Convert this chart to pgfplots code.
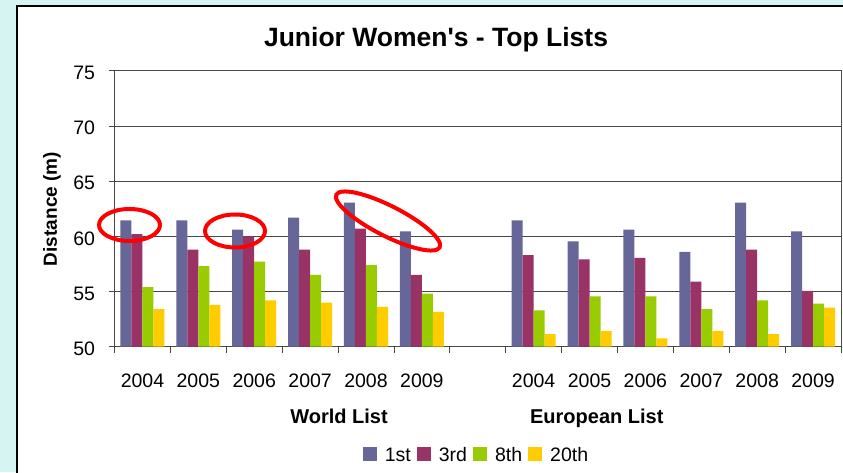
\documentclass[border=0pt]{standalone}
\usepackage{fontspec}
\setmainfont{Liberation Sans}[Ligatures=TeXOff]
\usepackage{pgfplots}
\pgfplotsset{compat=1.18}
\definecolor{bgc}{HTML}{D6F4F2}
\definecolor{cA}{HTML}{666699}
\definecolor{cB}{HTML}{993366}
\definecolor{cC}{HTML}{99CC00}
\definecolor{cD}{HTML}{FFCC00}
\definecolor{gridc}{HTML}{474747}
\begin{document}
\begin{tikzpicture}
\useasboundingbox (0pt,0pt) rectangle (843pt,472pt);
\fill[bgc] (0pt,0pt) rectangle (843pt,472pt);
\filldraw[fill=white, draw=black, line width=2pt] (17pt,-10pt) rectangle (870pt,466pt);
\begin{axis}[
  at={(114.5pt,125.3pt)}, anchor=south west,
  scale only axis, width=726.5pt, height=276pt,
  xmin=-0.5, xmax=12.5, ymin=50, ymax=75,
  ytick={50,55,60,65,70,75},
  xtick={0,1,2,3,4,5,7,8,9,10,11,12},
  xticklabels={2004,2005,2006,2007,2008,2009,2004,2005,2006,2007,2008,2009},
  minor xtick={-0.5,0.5,...,12.5},
  xtick pos=bottom, ytick pos=left,
  tick align=outside,
  major tick length=6pt, minor tick length=6pt,
  every major x tick/.append style={draw=none},
  every tick/.append style={gridc, line width=0.8pt},
  ymajorgrids,
  major grid style={gridc, line width=0.8pt},
  axis line style={gridc, line width=0.8pt},
  /pgf/number format/assume math mode=true,
  tick label style={font=\fontsize{19.5}{20}\selectfont},
  xticklabel style={anchor=base, yshift=-35pt},
  yticklabel style={xshift=-10pt, yshift=-2pt},
  ybar, bar width=0.197,
  legend columns=4,
  legend style={at={(0.499,-0.394)}, anchor=center, draw=none, fill=none,
    font=\fontsize{19.5}{20}\selectfont,
    /tikz/every even column/.append style={column sep=3pt},
    /tikz/every odd column/.append style={column sep=5pt},
    nodes={inner xsep=3pt}},
  legend image code/.code={\fill[#1] (0pt,-6pt) rectangle (14pt,8pt);},
]
\addplot[fill=cA, draw=none, bar shift=-0.2955] coordinates {
 (0,61.45) (1,61.45) (2,60.6) (3,61.7) (4,63.05) (5,60.45)
 (7,61.45) (8,59.55) (9,60.6) (10,58.6) (11,63.05) (12,60.45)};
\addplot[fill=cB, draw=none, bar shift=-0.0985] coordinates {
 (0,60.2) (1,58.8) (2,60.0) (3,58.8) (4,60.7) (5,56.5)
 (7,58.3) (8,57.9) (9,58.05) (10,55.9) (11,58.8) (12,55.05)};
\addplot[fill=cC, draw=none, bar shift=0.0985] coordinates {
 (0,55.4) (1,57.3) (2,57.7) (3,56.5) (4,57.4) (5,54.8)
 (7,53.3) (8,54.55) (9,54.55) (10,53.4) (11,54.2) (12,53.9)};
\addplot[fill=cD, draw=none, bar shift=0.2955] coordinates {
 (0,53.4) (1,53.8) (2,54.2) (3,54.0) (4,53.6) (5,53.15)
 (7,51.15) (8,51.4) (9,50.75) (10,51.4) (11,51.15) (12,53.55)};
\legend{1st,3rd,8th,20th}
\draw[gray, line width=0.8pt] (rel axis cs:1,0) -- (rel axis cs:1,1);
\end{axis}
\node[anchor=base, font=\bfseries\fontsize{26.5}{27}\selectfont] at (436pt,425.3pt) {Junior Women's - Top Lists};
\node[rotate=90, font=\bfseries\fontsize{19}{20}\selectfont] at (52pt,263pt) {Distance (m)};
\node[anchor=base, font=\bfseries\fontsize{20}{21}\selectfont] at (339pt,48.7pt) {World List};
\node[anchor=base, font=\bfseries\fontsize{20}{21}\selectfont] at (596.8pt,48.7pt) {European List};
\draw[red, line width=4pt] (129.5pt,247pt) ellipse [x radius=30.5pt, y radius=16pt];
\draw[red, line width=4pt] (235pt,241pt) ellipse [x radius=30pt, y radius=16.5pt];
\draw[red, line width=4pt, rotate around={-27:(388pt,251pt)}] (388pt,251pt) ellipse [x radius=58pt, y radius=15pt];
\end{tikzpicture}
\end{document}
